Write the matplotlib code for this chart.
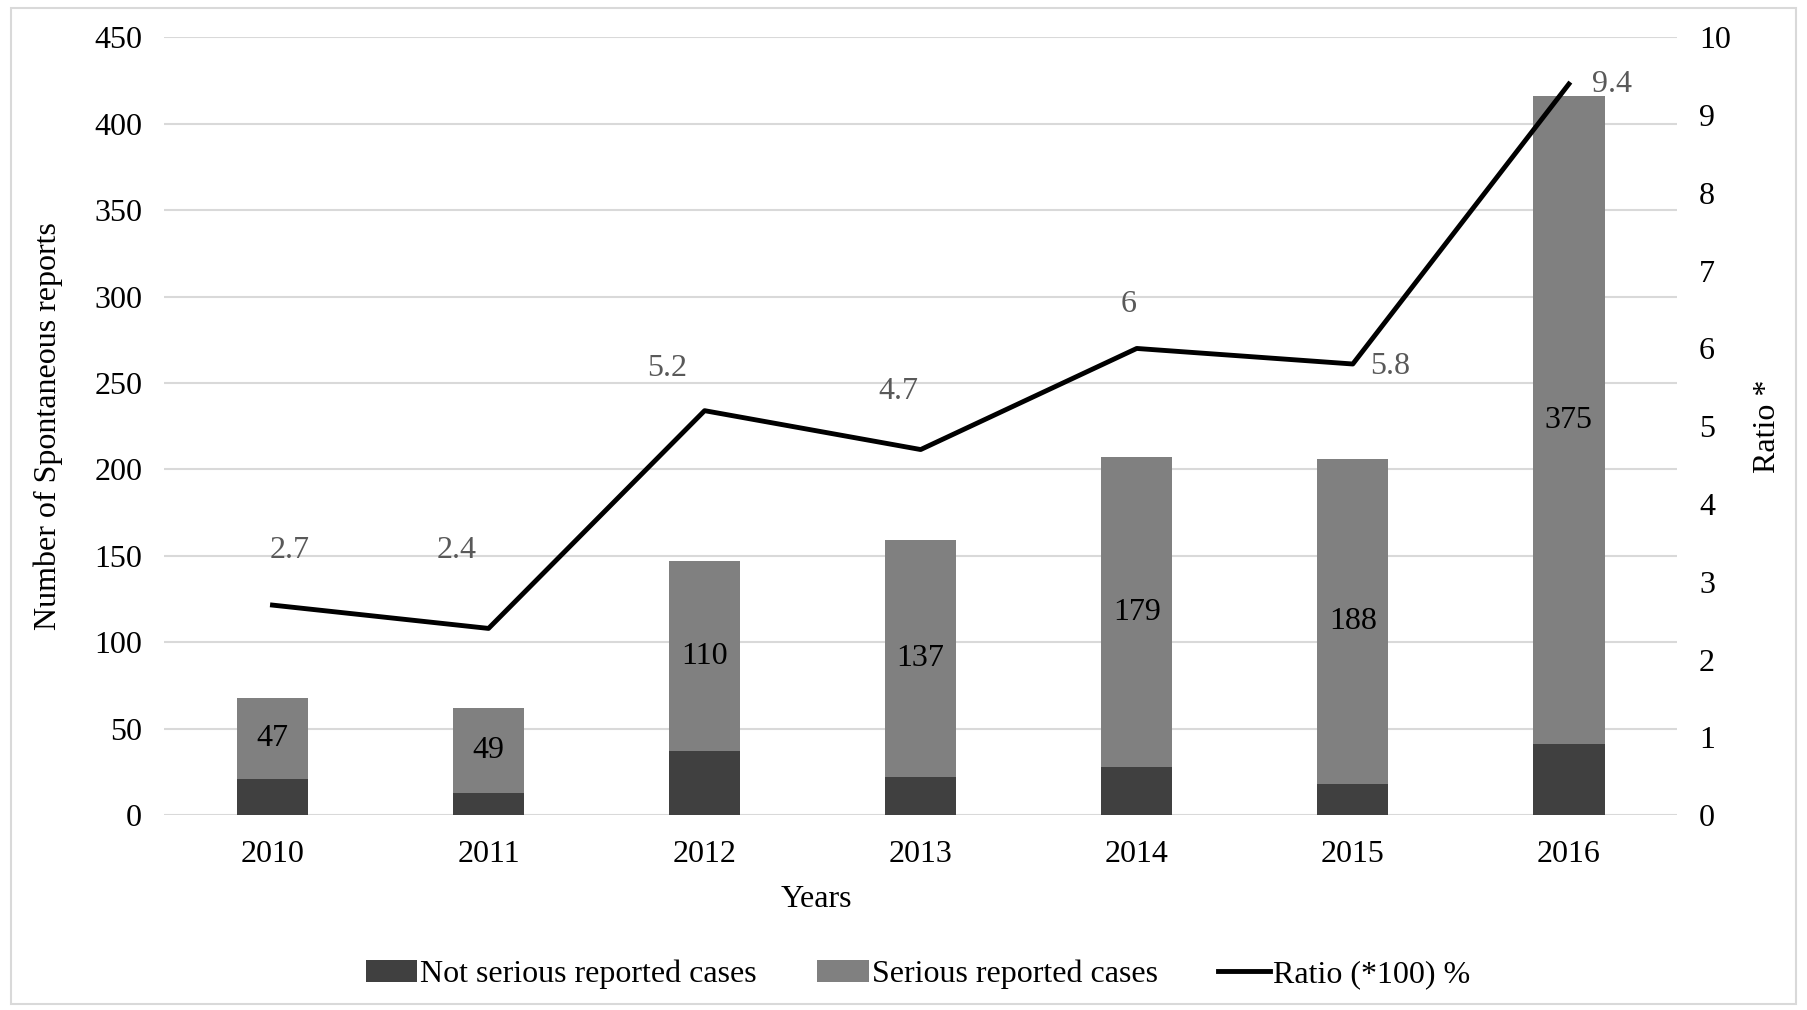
import numpy as np
import matplotlib
matplotlib.use("Agg")
import matplotlib.pyplot as plt
from matplotlib.patches import Rectangle

plt.rcParams['font.family'] = ['Liberation Serif', 'DejaVu Serif']

years = ['2010', '2011', '2012', '2013', '2014', '2015', '2016']
not_serious = [21, 13, 37, 22, 28, 18, 41]
serious = [47, 49, 110, 137, 179, 188, 375]
ratio = [2.7, 2.4, 5.2, 4.7, 6, 5.8, 9.4]

# label placement relative to each line point (points)
lbl_offsets = [(12, 39), (-23, 56), (-27, 30), (-16, 42), (-6, 32), (27, -2), (31, 0)]

dark = '#404040'
mid = '#808080'
fs = 23

fig = plt.figure(figsize=(18.07, 10.10), dpi=100)
# outer frame like the exported chart
fig.patches.append(Rectangle((0.006, 0.006), 0.988, 0.986, transform=fig.transFigure,
                             fill=False, edgecolor='#d9d9d9', linewidth=1.5))

ax = fig.add_axes([0.091, 0.193, 0.837, 0.770])
x = np.arange(len(years))
w = 0.33
ax.bar(x, not_serious, w, color=dark, label='Not serious reported cases', zorder=3)
ax.bar(x, serious, w, bottom=not_serious, color=mid, label='Serious reported cases', zorder=3)

for i in range(len(years)):
    ax.text(x[i], not_serious[i] + serious[i] / 2, str(serious[i]), ha='center', va='center',
            fontsize=fs, color='black', zorder=4)

ax.set_ylim(0, 450)
ax.set_yticks(range(0, 451, 50))
ax.set_xlim(-0.5, len(years) - 0.5)
ax.set_xticks(x)
ax.set_xticklabels(years)
ax.grid(axis='y', color='#d9d9d9', linewidth=1.5, zorder=0)
for s in ax.spines.values():
    s.set_visible(False)
ax.tick_params(length=0, labelsize=fs, pad=16)
ax.tick_params(axis='x', pad=18)
ax.set_ylabel('Number of Spontaneous reports', fontsize=fs)
ax.yaxis.set_label_coords(-0.067, 0.5)
ax.set_xlabel('Years', fontsize=fs)
ax.xaxis.set_label_coords(0.431, -0.09)

ax2 = ax.twinx()
ax2.plot(x, ratio, color='black', linewidth=3.5, label='Ratio (*100) %', zorder=5)
ax2.set_ylim(0, 10)
ax2.set_yticks(range(0, 11))
for s in ax2.spines.values():
    s.set_visible(False)
ax2.tick_params(length=0, labelsize=fs, pad=16)
ax2.set_ylabel('Ratio *', fontsize=fs)
ax2.yaxis.set_label_coords(1.05, 0.5)

for i, r in enumerate(ratio):
    ax2.annotate(str(r), (x[i], r), xytext=lbl_offsets[i], textcoords='offset points',
                 ha='center', va='center', fontsize=fs, color='#595959')

h1, l1 = ax.get_legend_handles_labels()
h2, l2 = ax2.get_legend_handles_labels()
fig.legend(h1 + h2, l1 + l2, loc='center', bbox_to_anchor=(0.508, 0.035), ncol=3,
           frameon=False, fontsize=fs, handlelength=1.6, handletextpad=0.1,
           columnspacing=1.9)

fig.savefig('out.png', dpi=100)
